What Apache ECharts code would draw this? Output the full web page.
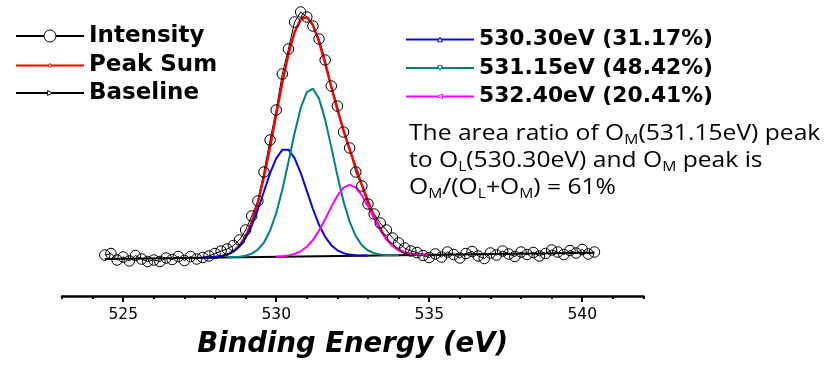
<!DOCTYPE html>
<html>
<head>
<meta charset="utf-8">
<title>O 1s XPS</title>
<script src="https://cdn.jsdelivr.net/npm/echarts@6/dist/echarts.min.js"></script>
<style>
  html, body { margin: 0; padding: 0; background: #fff; }
  #chart { width: 838px; height: 367px; }
</style>
</head>
<body>
<div id="chart"></div>
<script>
// Measured O 1s spectrum (binding energy in eV, intensity in a.u.)
const energy = [524.4,524.6,524.8,525.0,525.2,525.4,525.6,525.8,526.0,526.2,526.4,526.6,526.8,527.0,527.2,527.4,527.6,527.8,528.0,528.2,528.4,528.6,528.8,529.0,529.2,529.4,529.6,529.8,530.0,530.2,530.4,530.6,530.8,531.0,531.2,531.4,531.6,531.8,532.0,532.2,532.4,532.6,532.8,533.0,533.2,533.4,533.6,533.8,534.0,534.2,534.4,534.6,534.8,535.0,535.2,535.4,535.6,535.8,536.0,536.2,536.4,536.6,536.8,537.0,537.2,537.4,537.6,537.8,538.0,538.2,538.4,538.6,538.8,539.0,539.2,539.4,539.6,539.8,540.0,540.2,540.4];
const intensity = [41.0,42.5,36.0,39.0,35.0,40.5,37.0,34.5,36.0,34.5,38.0,36.5,39.5,35.5,39.5,37.0,38.5,
  40.0,42.5,45.0,47.0,50.5,56.0,66.0,80.0,95.0,124.0,156.0,186.0,222.0,247.0,274.0,284.0,279.0,270.0,257.0,236.0,210.0,190.0,164.0,148.0,124.0,110.0,92.0,82.0,73.0,66.0,58.0,53.0,48.0,45.0,43.5,
  40.5,38.5,42.0,39.0,44.0,41.5,38.0,42.5,44.5,40.0,37.5,43.0,41.0,45.0,42.0,39.5,44.0,41.5,43.5,40.0,42.5,46.0,44.0,41.5,45.5,43.0,46.5,42.0,44.0];

// Linear background under the fit
const baselineEnergy = [524.4, 540.4];
const baselineValue = [37.0, 43.3];

// Fitted curves share one energy grid; null where a curve is not drawn
const fitEnergy = [527.6,527.8,528.0,528.2,528.4,528.6,528.8,529.0,529.2,529.4,529.6,529.8,530.0,530.2,530.4,530.6,530.8,531.0,531.2,531.4,531.6,531.8,532.0,532.2,532.4,532.6,532.8,533.0,533.2,533.4,533.6,533.8,534.0,534.2,534.4,534.6,534.8,535.0];
const peakSum = [38.3,38.5,38.9,39.7,41.4,44.6,50.2,59.6,73.8,93.7,119.0,149.0,181.5,213.6,242.1,263.9,276.7,278.9,270.9,254.4,232.6,209.2,186.4,165.5,146.5,128.6,111.2,94.8,79.7,67.1,57.3,50.4,46.0,43.5,42.1,41.5,41.3,41.3];
const peakOL = [38.3,38.5,38.9,39.7,41.3,44.4,49.6,58.1,70.3,86.3,104.5,122.8,137.7,146.2,146.3,137.9,123.2,105.1,87.0,71.2,59.1,50.8,45.7,42.8,41.4,40.7,40.5,40.5,null,null,null,null,null,null,null,null,null,null];
const peakOM = [null,null,null,null,38.7,38.9,39.3,40.3,42.4,46.4,53.5,65.3,82.8,106.2,134.0,162.8,187.8,203.8,207.3,197.4,176.4,149.1,120.4,94.6,74.3,59.9,50.7,45.5,42.8,41.5,41.0,40.8,40.8,null,null,null,null,null];
const peakOH = [null,null,null,null,null,null,null,null,null,null,null,null,39.4,39.8,40.6,42.0,44.7,49.2,56.0,65.4,76.7,89.1,100.3,108.3,111.2,108.4,100.6,89.6,77.4,66.1,56.9,50.3,46.0,43.5,42.1,41.5,41.3,41.3];

const componentNames = ['530.30eV (31.17%)', '531.15eV (48.42%)', '532.40eV (20.41%)'];
const majorTicks = [525, 530, 535, 540];

const pairs = (xs, ys) => xs.map((x, i) => [x, ys[i]]);

const chart = echarts.init(document.getElementById('chart'), null, { renderer: 'canvas' });

const leftLegendText = { fontFamily: 'DejaVu Sans', fontWeight: 'bold', fontSize: 23, color: '#000' };
const rightLegendText = { fontFamily: 'DejaVu Sans', fontWeight: 'bold', fontSize: 21.8, color: '#000' };
const hollow = color => ({ itemStyle: { color: '#fff', borderColor: color, borderWidth: 1 } });
const legendItem = (name, left, top, itemHeight, textStyle, extra) => Object.assign({
  data: [name], left: left, top: top, orient: 'horizontal', padding: 0,
  itemWidth: 68, itemHeight: itemHeight, selectedMode: false, textStyle: textStyle
}, extra || {});

chart.setOption({
  animation: false,
  backgroundColor: '#fff',
  grid: { left: 62, right: 194.6, top: 6, bottom: 71, containLabel: false },
  legend: [
    legendItem('Intensity', 15, 24.5, 15, leftLegendText, hollow('#000')),
    legendItem('Peak Sum', 15, 54, 4, leftLegendText, hollow('#ff0000')),
    legendItem('Baseline', 15, 81.5, 6, leftLegendText, hollow('#000')),
    legendItem(componentNames[0], 405, 28.5, 6, rightLegendText, hollow('#0000ff')),
    legendItem(componentNames[1], 405, 57, 6, rightLegendText, hollow('#008080')),
    legendItem(componentNames[2], 405, 85.5, 6, rightLegendText, hollow('#ff00ff'))
  ],
  xAxis: [
    {
      type: 'value', min: 523, max: 542, interval: 1, position: 'bottom',
      axisLine: { lineStyle: { color: '#000', width: 2.5 } },
      axisTick: { length: 3, lineStyle: { color: '#000', width: 2 } },
      axisLabel: {
        color: '#000', fontFamily: 'DejaVu Sans', fontSize: 15.5, margin: 11,
        formatter: v => (majorTicks.indexOf(v) >= 0 ? String(v) : '')
      },
      splitLine: { show: false },
      name: 'Binding Energy (eV)', nameLocation: 'middle', nameGap: 35,
      nameTextStyle: { fontFamily: 'DejaVu Sans', fontWeight: 'bold', fontStyle: 'italic', fontSize: 27.5, color: '#000' }
    },
    {
      type: 'value', min: 523, max: 542, position: 'bottom',
      axisLine: { show: false },
      axisTick: { customValues: majorTicks, length: 6, lineStyle: { color: '#000', width: 2 } },
      axisLabel: { show: false },
      splitLine: { show: false }
    }
  ],
  yAxis: { type: 'value', min: 0, max: 290, show: false },
  series: [
    {
      name: 'Intensity', type: 'line', data: pairs(energy, intensity),
      symbol: 'circle', symbolSize: 10.5, showSymbol: true,
      lineStyle: { color: '#000', width: 1 },
      itemStyle: { color: 'rgba(0,0,0,0)', borderColor: '#000', borderWidth: 1 }
    },
    {
      name: 'Peak Sum', type: 'line', data: pairs(fitEnergy, peakSum),
      symbol: 'circle', showSymbol: false,
      lineStyle: { color: '#ff0000', width: 2.5 }, itemStyle: { color: '#ff0000' }
    },
    {
      name: 'Baseline', type: 'line', data: pairs(baselineEnergy, baselineValue),
      symbol: 'triangle', symbolRotate: -90, showSymbol: false,
      lineStyle: { color: '#000', width: 2 }, itemStyle: { color: '#000' }
    },
    {
      name: componentNames[0], type: 'line', data: pairs(fitEnergy, peakOL),
      symbol: 'triangle', showSymbol: false,
      lineStyle: { color: '#0000ff', width: 2 }, itemStyle: { color: '#0000ff' }
    },
    {
      name: componentNames[1], type: 'line', data: pairs(fitEnergy, peakOM),
      symbol: 'triangle', symbolRotate: 180, showSymbol: false,
      lineStyle: { color: '#008080', width: 2 }, itemStyle: { color: '#008080' }
    },
    {
      name: componentNames[2], type: 'line', data: pairs(fitEnergy, peakOH),
      symbol: 'triangle', symbolRotate: 90, showSymbol: false,
      lineStyle: { color: '#ff00ff', width: 2 }, itemStyle: { color: '#ff00ff' }
    }
  ],
  graphic: [
    {
      type: 'text', left: 409, top: 123, scaleX: 1.12, originX: 0, originY: 0,
      style: {
        text: '{n|The area ratio of O}{s|M}{n|(531.15eV) peak}\n' +
              '{n|to O}{s|L}{n|(530.30eV) and O}{s|M}{n| peak is}\n' +
              '{n|O}{s|M}{n|/(O}{s|L}{n|+O}{s|M}{n|) = 61%}',
        fill: '#000',
        rich: {
          n: { fontFamily: 'Open Sans', fontSize: 22, lineHeight: 27, fill: '#000' },
          s: { fontFamily: 'Open Sans', fontSize: 14, lineHeight: 16, verticalAlign: 'bottom', fill: '#000' }
        }
      }
    }
  ]
});
</script>
</body>
</html>
